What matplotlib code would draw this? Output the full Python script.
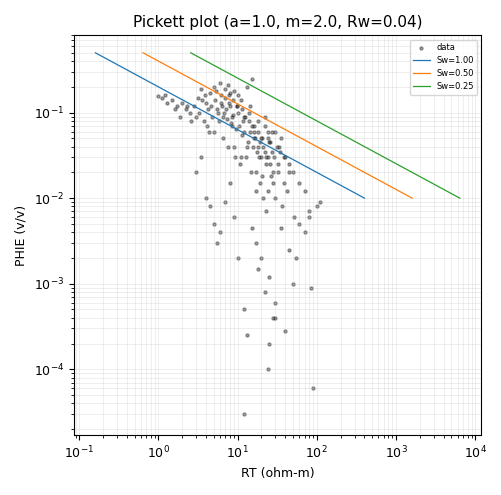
import matplotlib
matplotlib.use("Agg")
import matplotlib.pyplot as plt
import numpy as np

A, M, N, RW = 1.0, 2.0, 2.0, 0.04
SW_VALUES = [1.00, 0.50, 0.25]
PHI_ENDS = [0.01, 0.5]

# Points read (approximately) off the reference scatter
RT = [1.0, 1.1, 1.2, 1.5, 1.7, 2.0, 2.2, 2.5, 2.8, 3.0, 3.2, 3.5, 3.8, 4.0, 4.3,
      4.5, 5.0, 5.5, 6.0, 6.5, 7.0, 7.5, 8.0, 8.5, 9.0, 10, 11, 12, 13, 14,
      15, 16, 18, 20, 22, 25, 28, 30, 35, 40, 45, 50,
      3.0, 3.5, 4.0, 4.5, 5.0, 5.5, 6.0, 7.0, 8.0, 9.0, 10, 12, 13, 15, 17,
      18, 20, 22, 24, 25, 28, 30, 35, 40, 45, 50, 55, 60, 70, 80, 85, 90, 12,
      100, 110, 60, 70, 80, 25, 30,
      4.2, 4.8, 5.2, 5.8, 6.3, 6.8, 7.3, 7.8, 8.3, 8.8, 9.5, 10.5, 11.5, 12.5,
      13.5, 14.5, 15.5, 16.5, 17.5, 19, 21, 23, 24, 26, 27, 29, 32, 33, 38,
      4.1, 4.6, 5.1, 5.6, 6.1, 6.6, 7.1, 7.6, 8.1, 8.6, 9.2, 9.8, 10.8, 11.8,
      12.8, 13.8, 14.8, 16, 17, 18.5, 20.5, 22.5, 24.5, 26.5, 30, 36, 42,
      18, 20, 22, 24, 26, 15, 17, 19, 21, 23, 11, 13, 9, 28, 32, 38, 44, 52,
      1.3, 1.6, 1.9, 2.3, 2.6, 3.3, 3.6, 3.9, 5.3, 6.2, 6.9, 7.7, 8.7, 9.7,
      10.2, 11.2, 12.2, 14.2, 16.2, 18.2, 20.2, 22.2, 24.2, 27.5, 31, 34]
PHIE = [0.155, 0.15, 0.16, 0.14, 0.12, 0.13, 0.11, 0.10, 0.12, 0.09, 0.15, 0.19, 0.08, 0.13, 0.06,
        0.17, 0.20, 0.11, 0.22, 0.09, 0.15, 0.21, 0.12, 0.07, 0.18, 0.10, 0.14, 0.06, 0.20, 0.08,
        0.25, 0.05, 0.04, 0.03, 0.035, 0.045, 0.02, 0.06, 0.05, 0.03, 0.025, 0.02,
        0.02, 0.03, 0.01, 0.008, 0.005, 0.003, 0.004, 0.009, 0.015, 0.006, 0.002, 0.0005, 0.00025, 0.0045, 0.003,
        0.0015, 0.002, 0.0008, 0.0001, 0.0012, 0.0004, 0.0006, 0.0045, 0.00028, 0.0025, 0.001, 0.002, 0.005, 0.004, 0.007, 0.0009, 0.00006, 0.00003,
        0.008, 0.009, 0.015, 0.012, 0.006, 0.0002, 0.0004,
        0.11, 0.09, 0.14, 0.08, 0.12, 0.10, 0.085, 0.13, 0.075, 0.095, 0.065, 0.07, 0.055, 0.09,
        0.045, 0.06, 0.04, 0.05, 0.035, 0.045, 0.04, 0.03, 0.05, 0.025, 0.035, 0.03, 0.02, 0.04, 0.015,
        0.07, 0.12, 0.06, 0.10, 0.16, 0.05, 0.11, 0.04, 0.17, 0.09, 0.03, 0.12, 0.025, 0.08,
        0.03, 0.10, 0.02, 0.07, 0.012, 0.03, 0.018, 0.025, 0.012, 0.018, 0.01, 0.008, 0.012,
        0.06, 0.05, 0.07, 0.06, 0.045, 0.07, 0.02, 0.015, 0.01, 0.007, 0.03, 0.04, 0.04, 0.015, 0.025, 0.03, 0.02, 0.006,
        0.13, 0.11, 0.09, 0.12, 0.08, 0.10, 0.14, 0.16, 0.18, 0.13, 0.19, 0.16, 0.14, 0.12,
        0.16, 0.11, 0.09, 0.12, 0.06, 0.08, 0.05, 0.09, 0.03, 0.06, 0.04, 0.035]

fig, ax = plt.subplots(figsize=(5.02, 4.95), dpi=100)
ax.scatter(RT, PHIE, s=5, c='black', alpha=0.35, label='data')

phi = np.array(PHI_ENDS)
for sw in SW_VALUES:
    rt = A * RW / (phi ** M * sw ** N)
    ax.plot(rt, phi, lw=0.9, label=f'Sw={sw:.2f}')

ax.set_xscale('log')
ax.set_yscale('log')
ax.set_xlim(0.085, 1.2e4)
ax.set_ylim(1.7e-5, 0.8)
ax.grid(True, which='both', alpha=0.3, lw=0.5)
ax.tick_params(labelsize=9)
ax.set_xlabel('RT (ohm-m)', fontsize=9)
ax.set_ylabel('PHIE (v/v)', fontsize=9)
ax.set_title('Pickett plot (a=1.0, m=2.0, Rw=0.04)', fontsize=11)
ax.legend(loc='upper right', fontsize=6)
fig.tight_layout()
fig.savefig('out.png', dpi=100)
